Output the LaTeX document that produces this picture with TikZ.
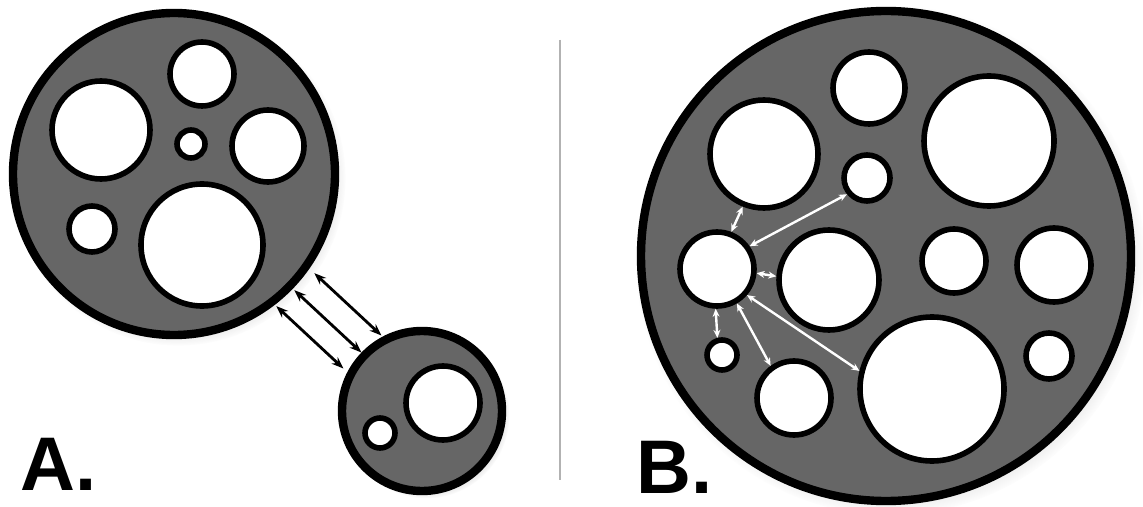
\documentclass[tikz,border=0pt]{standalone}
\usepackage{fontspec}
\setmainfont{Liberation Sans}
\usetikzlibrary{arrows.meta, shadows}

\begin{document}
\begin{tikzpicture}[
    x=0.5pt, y=-0.5pt,
    cell/.style={circle, draw, line width=4.2pt, fill=black!60, inner sep=0pt,
                 minimum size=#1,
                 circular drop shadow={shadow xshift=2pt, shadow yshift=-2pt,
                                       shadow scale=1.04, opacity=0.35}},
    hole/.style={circle, draw, line width=2.8pt, fill=white, inner sep=0pt, minimum size=#1},
    swap/.style={{Stealth[length=6pt, width=4.5pt]}-{Stealth[length=6pt, width=4.5pt]},
                 line width=1.4pt, shorten <=1pt},
    link/.style={{Stealth[length=4pt, width=3.5pt]}-{Stealth[length=4pt, width=3.5pt]},
                 line width=1.2pt, white},
    tag/.style={font=\fontsize{38}{40}\selectfont\bfseries, inner sep=0pt, anchor=base west}
]
  \path[use as bounding box, fill=white] (0,0) rectangle (1143,507);

  % A: large cell with its vesicles
  \node[cell=161pt] (bigA) at (174,174) {};
  \node[hole=32pt] (aTop) at (202,74) {};
  \node[hole=49pt] (aLeft) at (101,130) {};
  \node[hole=14pt] (aDot) at (191,144) {};
  \node[hole=36pt] (aRight) at (268,146) {};
  \node[hole=23pt] (aLow) at (92,229) {};
  \node[hole=61pt] (aBig) at (202,245) {};

  % A: small cell
  \node[cell=80pt] (smallA) at (422,411) {};
  \node[hole=37pt] (sBig) at (443,403) {};
  \node[hole=15pt] (sDot) at (380,433) {};

  % A: exchange between the two cells
  \foreach \dx/\dy in {20/-17, 0/0, -18/16}
    \draw[swap] ([shift={(\dx,\dy)}]bigA.-44) -- ([shift={(\dx,\dy)}]smallA.136);

  % divider
  \draw[black!30, line width=1pt] (560,40) -- (560,480);

  % B: one large cell
  \node[cell=245pt] (bigB) at (886,256) {};
  \node[hole=36pt] (bTop) at (869,88) {};
  \node[hole=54pt] (bTL) at (764,154) {};
  \node[hole=23pt] (bTiny) at (867,178) {};
  \node[hole=65pt] (bTR) at (989,141) {};
  \node[hole=37pt] (hub) at (717,269) {};
  \node[hole=50pt] (bCtr) at (829,280) {};
  \node[hole=32pt] (bMid) at (954,261) {};
  \node[hole=37pt] (bFar) at (1054,265) {};
  \node[hole=15pt] (bDot) at (722,355) {};
  \node[hole=37pt] (bLow) at (794,398) {};
  \node[hole=72pt] (bBig) at (932,389) {};
  \node[hole=23pt] (bRight) at (1049,356) {};

  % B: links from the hub vesicle
  \draw[link] (hub.69) -- (bTL.-112);
  \draw[link] (hub.35) -- (bTiny.-141);
  \draw[link] (hub.-6) -- (bCtr.176);
  \draw[link] (hub.-92) -- (bDot.105);
  \draw[link] (hub.-60) -- (bLow.126);
  \draw[link] (hub.-41) -- (bBig.166);

  % panel labels
  \node[tag] (labA) at (20,490) {A.};
  \node[tag] (labB) at (636,493) {B.};
\end{tikzpicture}
\end{document}
